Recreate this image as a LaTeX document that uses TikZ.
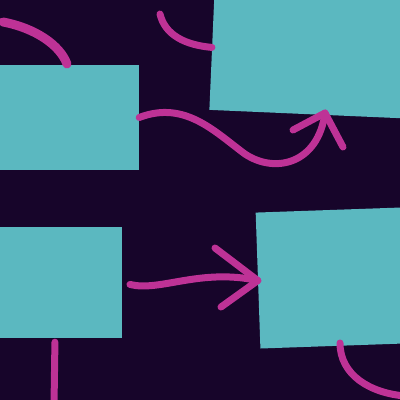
\documentclass[tikz,border=0pt]{standalone}
\usetikzlibrary{calc}
\definecolor{bgc}{HTML}{17052A}
\definecolor{boxc}{HTML}{5BB8C0}
\definecolor{magc}{HTML}{BE3296}
\begin{document}
\begin{tikzpicture}[x=1pt,y=-1pt,
  box/.style={fill=boxc, draw=none, inner sep=0pt, rectangle},
  link/.style={draw=magc, line width=7pt, line cap=round, line join=round}]
\fill[bgc] (0,0) rectangle (400,400);
\useasboundingbox (0,0) rectangle (400,400);
\clip (0,0) rectangle (400,400);
% boxes
\node[box, minimum width=141pt, minimum height=105pt] (A) at (68.5,117.5) {};
\node[box, minimum width=210pt, minimum height=125pt, rotate=-2.5] (B) at (317,52) {};
\node[box, minimum width=127pt, minimum height=111pt] (C) at (58.5,282.5) {};
\node[box, minimum width=146pt, minimum height=136pt, rotate=2] (D) at (331,278) {};
% free ends
\coordinate (a1s) at (3,22);
\coordinate (a1e) at (67,64);
\coordinate (a2s) at (160,14);
\coordinate (t3) at (325,113);
\coordinate (b3l) at (293,130);
\coordinate (b3r) at (343,147);
\coordinate (b4u) at (215,248);
\coordinate (b4d) at (221,307);
\coordinate (a5e) at (54,405);
\coordinate (a6s) at (340,343);
\coordinate (a6e) at (405,396);
% connectors
\draw[link, line width=9pt] (a1s) .. controls (35,28) and (60,45) .. (a1e);
\draw[link] (a2s) .. controls (165,35) and (185,45) .. (B.west);
\draw[link] (A.east) .. controls (185,100) and (215,132) .. (245,154)
   .. controls (275,174) and (318,164) .. (t3);
\draw[link] (b3l) -- (t3) -- (b3r);
\draw[link, shorten <=8pt] (C.east) .. controls (160,292) and (200,268) .. (D.west);
\draw[link] (b4u) -- (D.west) -- (b4d);
\draw[link, shorten <=4pt] (C.south -| 55,0) -- (a5e);
\draw[link] (a6s) .. controls (340,375) and (370,393) .. (a6e);
\end{tikzpicture}
\end{document}
